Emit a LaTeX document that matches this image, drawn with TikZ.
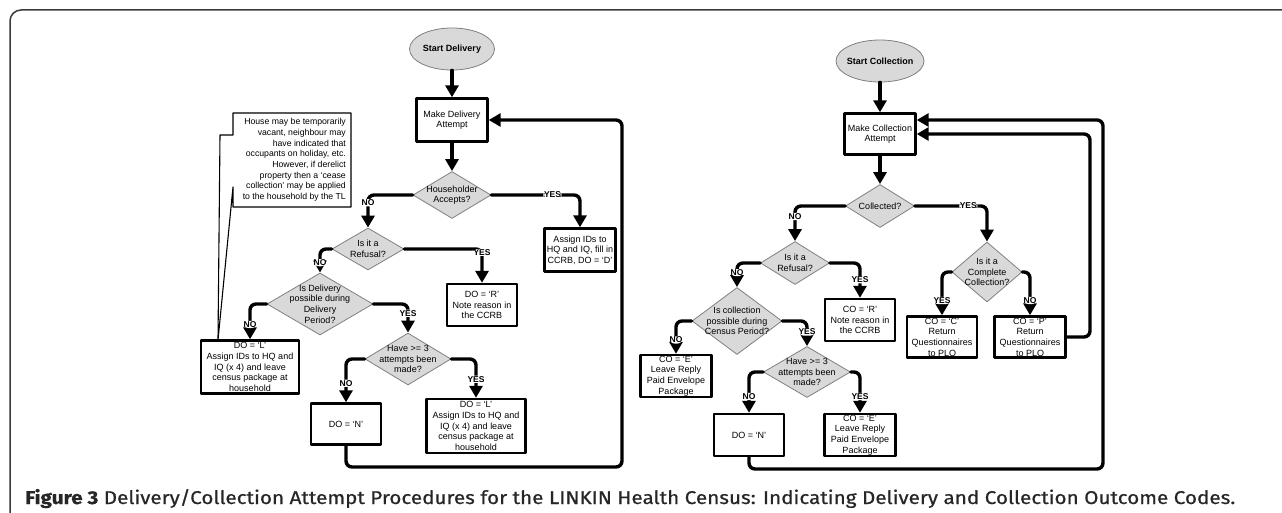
\documentclass[tikz,border=0pt]{standalone}
\usepackage{fontspec}
\setmainfont{Liberation Sans}
\newfontfamily\capfont[FakeBold=0.6]{Fira Sans}
\usepackage{xcolor}
\usetikzlibrary{arrows.meta,shapes.geometric,calc}
\definecolor{decfill}{HTML}{D9D9D9}
\definecolor{decline}{HTML}{7F7F7F}
\definecolor{framegray}{HTML}{3A3A3A}

\begin{document}
\begin{tikzpicture}[line cap=round,line join=round,>={Triangle[width=13pt,length=12pt]},x=1pt,y=-1pt,
  txt/.style={font=\fontsize{9}{10.6}\selectfont},
  box/.style={txt,draw,line width=2.4pt,align=center,inner sep=1pt},
  dec/.style={diamond,draw=decline,fill=decfill,line width=0.8pt,inner sep=0pt},
  dectext/.style={txt,align=center,inner sep=0pt},
  term/.style={ellipse,draw=decline,fill=decfill,line width=0.8pt,inner sep=0pt},
  termtext/.style={font=\bfseries\fontsize{9}{10.6}\selectfont,inner sep=0pt},
  conn/.style={->,line width=3.4pt,rounded corners=6pt},
  yn/.style={font=\bfseries\fontsize{8.5}{9}\selectfont,fill=white,inner sep=0.6pt}]
\useasboundingbox (0,0) rectangle (1282,513);
\clip (0,0) rectangle (1282,513);
% frame
\draw[framegray,line width=1.5pt,rounded corners=11pt] (10,540) -- (10,10) -- (1310,10);

% delivery
\node[term,minimum width=85pt,minimum height=42pt,label={[termtext]center:Start Delivery}] (sd) at (452,49) {};
\node[box,minimum width=71pt,minimum height=43pt] (dmake) at (452,120) {Make Delivery\\Attempt};
\node[dec,minimum width=78pt,minimum height=47pt,label={[dectext]center:Householder\\Accepts?}] (dhh) at (452,195) {};
\node[box,minimum width=71pt,minimum height=43pt] (dassign) at (580,250) {Assign IDs to\\HQ and IQ, fill in\\CCRB, DO = ‘D’};
\node[dec,minimum width=72pt,minimum height=42pt,label={[dectext]center:Is it a\\Refusal?}] (dref) at (368,249) {};
\node[box,minimum width=70pt,minimum height=42pt] (dr) at (482,305) {DO = ‘R’\\Note reason in\\the CCRB};
\node[dec,minimum width=106pt,minimum height=62pt,label={[dectext]center:Is Delivery\\possible during\\Delivery\\Period?}] (dposs) at (320,304) {};
\node[box,minimum width=98pt,minimum height=53pt] (dl) at (250,367) {DO = ‘L’\\Assign IDs to HQ and\\IQ (x 4) and leave\\census package at\\household};
\node[dec,minimum width=86pt,minimum height=52pt,label={[dectext]center:Have >= 3\\attempts been\\made?}] (dhave) at (408,359) {};
\node[box,minimum width=70pt,minimum height=41pt] (dn) at (346,424) {DO = ‘N’};
\node[box,minimum width=99pt,minimum height=54pt] (dl2) at (476,426) {DO = ‘L’\\Assign IDs to HQ and\\IQ (x 4) and leave\\census package at\\household};
\coordinate (dloop) at (622,467);

% callout
\coordinate (tip) at (218,340);
\draw[line width=1.1pt,fill=white] (233,113) -- (351,113) -- (351,207) -- (233,207) -- (233,187) -- (tip) -- (220,135) -- (233,135) -- cycle;
\node[align=right,inner sep=0pt,anchor=east,font=\fontsize{8.7}{10.7}\selectfont] (notetext) at (346,160) {House may be temporarily\\vacant, neighbour may\\have indicated that\\occupants on holiday, etc.\\However, if derelict\\property then a ‘cease\\collection’ may be applied\\to the household by the TL};

\draw[conn] (sd) -- (dmake);
\draw[conn] (dmake) -- (dhh);
\draw[conn] (dhh.west) -| node[yn,pos=0.62]{NO} (dref.north);
\draw[conn] (dhh.east) -| node[yn,pos=0.345]{YES} (dassign.north);
\draw[conn] (dref.west) -| node[yn,pos=0.79]{NO} (dposs.north);
\draw[conn] (dref.east) -| node[yn,pos=0.55]{YES} (dr.north);
\draw[conn] (dposs.west) -| node[yn,pos=0.79]{NO} (dl.north);
\draw[conn] (dposs.east) -| node[yn,pos=0.66]{YES} (dhave.north);
\draw[conn] (dhave.west) -| node[yn,pos=0.78]{NO} (dn.north);
\draw[conn] (dhave.east) -| node[yn,pos=0.76]{YES} (dl2.north);
\draw[conn] (dn.south) |- (dloop) |- (dmake.east);

% collection
\node[term,minimum width=88pt,minimum height=42pt,label={[termtext]center:Start Collection}] (sc) at (880,61) {};
\node[box,minimum width=71pt,minimum height=41pt] (cmake) at (880,134) {Make Collection\\Attempt};
\node[dec,minimum width=69pt,minimum height=43pt,label={[dectext]center:Collected?}] (ccol) at (880,206) {};
\node[dec,minimum width=69pt,minimum height=43pt,label={[dectext]center:Is it a\\Refusal?}] (cref) at (795,263) {};
\node[box,minimum width=70pt,minimum height=42pt] (cr) at (860,320) {CO = ‘R’\\Note reason in\\the CCRB};
\node[dec,minimum width=70pt,minimum height=60pt,label={[dectext]center:Is it a\\Complete\\Collection?}] (ccomp) at (987,272) {};
\node[box,minimum width=70pt,minimum height=41pt] (cc) at (942,337) {CO = ‘C’\\Return\\Questionnaires\\to PLO};
\node[box,minimum width=71pt,minimum height=41pt] (cp) at (1030,337) {CO = ‘P’\\Return\\Questionnaires\\to PLO};
\node[dec,minimum width=90pt,minimum height=67pt,label={[dectext]center:Is collection\\possible during\\Census Period?}] (cposs) at (737,321) {};
\node[box,minimum width=71pt,minimum height=41pt] (ce) at (676,376) {CO = ‘E’\\Leave Reply\\Paid Envelope\\Package};
\node[dec,minimum width=87pt,minimum height=51pt,label={[dectext]center:Have >= 3\\attempts been\\made?}] (chave) at (807,372) {};
\node[box,minimum width=70pt,minimum height=42pt] (cn) at (749,435) {DO = ‘N’};
\node[box,minimum width=71pt,minimum height=42pt] (ce2) at (860,435) {CO = ‘E’\\Leave Reply\\Paid Envelope\\Package};
\coordinate (cinner) at (1090,134);
\coordinate (couter) at (1103,469);

\draw[conn] (sc) -- (cmake);
\draw[conn] (cmake) -- (ccol);
\draw[conn] (ccol.west) -| node[yn,pos=0.65]{NO} (cref.north);
\draw[conn] (ccol.east) -| node[yn,pos=0.37]{YES} (ccomp.north);
\draw[conn] (cref.west) -| node[yn,pos=0.7]{NO} (cposs.north);
\draw[conn] (cref.east) -| node[yn,pos=0.74]{YES} (cr.north);
\draw[conn] (ccomp.west) -| node[yn,pos=0.83]{YES} (cc.north);
\draw[conn] (ccomp.east) -| node[yn,pos=0.83]{NO} (cp.north);
\draw[conn] (cposs.west) -| node[yn,pos=0.79]{NO} (ce.north);
\draw[conn] (cposs.east) -| node[yn,pos=0.72]{YES} (chave.north);
\draw[conn] (chave.west) -| node[yn,pos=0.8]{NO} (cn.north);
\draw[conn] (chave.east) -| node[yn,pos=0.8]{YES} (ce2.north);
\draw[conn] (cp.east) -| (cinner) -- (cmake.east);
\draw[conn] (cn.south) |- (couter) |- ([yshift=14pt]cmake.east);

% caption
\node[anchor=base west,inner sep=0pt,text=black!85] (caption) at (25,504) {\resizebox{1210pt}{15pt}{\capfont\fontsize{20}{24}\selectfont\bfseries Figure 3\mdseries\ Delivery/Collection Attempt Procedures for the LINKIN Health Census: Indicating Delivery and Collection Outcome Codes.}};
\end{tikzpicture}
\end{document}
